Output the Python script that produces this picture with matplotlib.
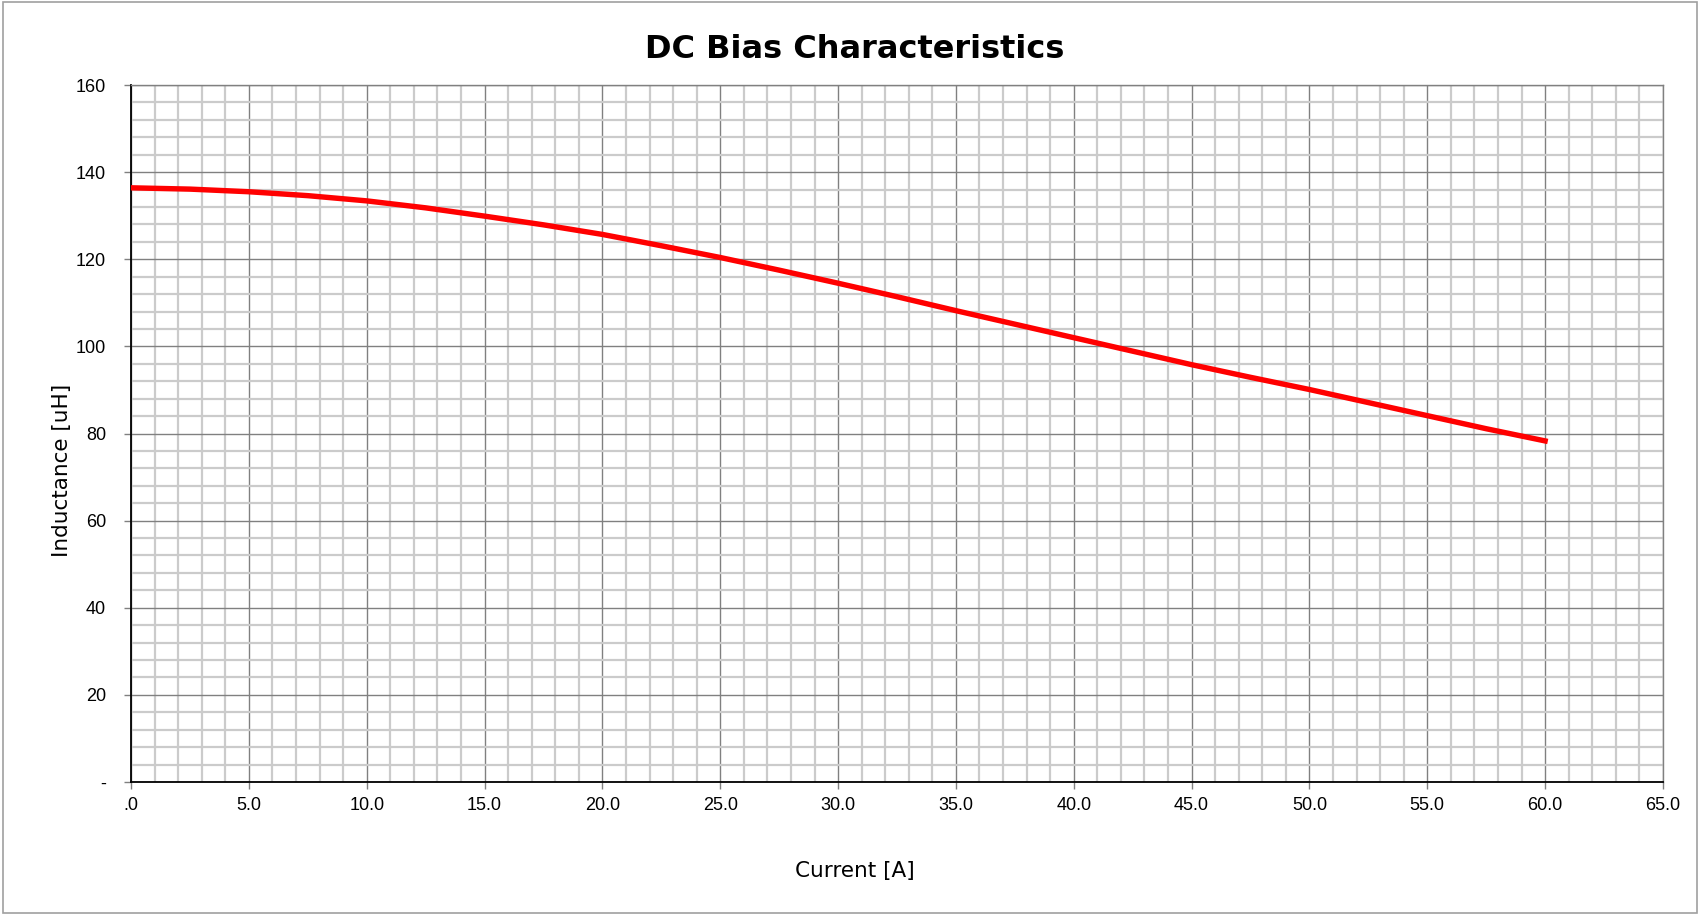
import matplotlib.pyplot as plt
from matplotlib.ticker import MultipleLocator, FixedLocator, FixedFormatter
from matplotlib.patches import Rectangle

# DC bias curve
current = [0, 2.5, 5, 7.5, 10, 12.5, 15, 17.5, 20, 22.5, 25, 27.5, 30,
           32.5, 35, 37.5, 40, 42.5, 45, 47.5, 50, 52.5, 55, 57.5, 60]
inductance = [136.4, 136.1, 135.5, 134.6, 133.4, 131.8, 129.9, 127.9, 125.7,
              123.1, 120.4, 117.5, 114.5, 111.4, 108.2, 105.1, 102.0, 98.9,
              95.8, 92.9, 90.1, 87.1, 84.1, 81.1, 78.3]

x_ticks = [0, 5, 10, 15, 20, 25, 30, 35, 40, 45, 50, 55, 60, 65]
x_labels = [".0"] + ["%.1f" % v for v in x_ticks[1:]]
y_ticks = [0, 20, 40, 60, 80, 100, 120, 140, 160]
y_labels = ["-"] + [str(v) for v in y_ticks[1:]]

fig = plt.figure(figsize=(17, 9.14), dpi=100)
ax = fig.add_axes([0.0771, 0.1444, 0.9011, 0.7626])

ax.plot(current, inductance, color="#ff0000", linewidth=3.9, zorder=5)

ax.set_xlim(0, 65)
ax.set_ylim(0, 160)
ax.xaxis.set_major_locator(FixedLocator(x_ticks))
ax.xaxis.set_major_formatter(FixedFormatter(x_labels))
ax.yaxis.set_major_locator(FixedLocator(y_ticks))
ax.yaxis.set_major_formatter(FixedFormatter(y_labels))
ax.xaxis.set_minor_locator(MultipleLocator(1))
ax.yaxis.set_minor_locator(MultipleLocator(4))

ax.grid(which="minor", color="#cbcbcb", linewidth=1.6, zorder=0)
ax.grid(which="major", color="#808080", linewidth=1.0, zorder=1)
ax.set_axisbelow(True)

ax.tick_params(which="major", length=5, width=1, color="#808080",
               labelsize=13, pad=6)
ax.tick_params(which="minor", length=0)
ax.tick_params(axis="y", pad=13)
for lab in ax.get_xticklabels() + ax.get_yticklabels():
    lab.set_family("Liberation Sans")

for s in ["left", "bottom"]:
    ax.spines[s].set_color("black")
    ax.spines[s].set_linewidth(1.3)
for s in ["top", "right"]:
    ax.spines[s].set_color("#808080")
    ax.spines[s].set_linewidth(1.0)

fig.text(0.503, 0.0475, "Current [A]", fontsize=15.5, family="DejaVu Sans",
         ha="center", va="center")
fig.text(0.0365, 0.485, "Inductance [uH]", fontsize=15.5, family="DejaVu Sans",
         ha="center", va="center", rotation=90)
fig.text(0.503, 0.946, "DC Bias Characteristics", fontsize=23,
         fontweight="bold", family="DejaVu Sans", ha="center", va="center")

fig.patches.append(Rectangle((0.002, 0.001), 0.996, 0.997, transform=fig.transFigure,
                             fill=False, edgecolor="#a0a0a0", linewidth=1.2))

fig.savefig("out.png", dpi=100)
